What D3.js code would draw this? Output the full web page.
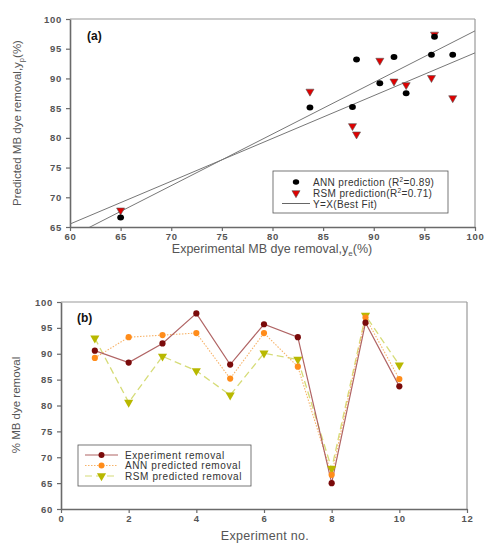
<!DOCTYPE html>
<html><head><meta charset="utf-8">
<script src="https://cdn.jsdelivr.net/npm/d3@7/dist/d3.min.js"></script>
<style>
body{margin:0;background:#fff;}
text{font-family:"Liberation Sans",Arial,sans-serif;}
</style></head>
<body><svg id="c" width="484" height="544"></svg>
<script>
const experimentNo = [1,2,3,4,5,6,7,8,9,10];
const experimental = [90.6,88.3,92.0,97.8,87.9,95.7,93.2,65.0,96.0,83.7];
const annPredicted = [89.2,93.2,93.6,94.0,85.2,94.0,87.5,66.6,97.0,85.1];
const rsmPredicted = [93.0,80.6,89.5,86.7,82.0,90.1,88.9,67.8,97.4,87.8];
// fit lines in panel (a): [slope, intercept]
const fitLines = [[0.72,22.3],[0.868,11.2]];
const ticksA_x = [60,65,70,75,80,85,90,95,100];
const ticksA_y = [65,70,75,80,85,90,95,100];
const ticksB_x = [0,2,4,6,8,10,12];
const ticksB_y = [60,65,70,75,80,85,90,95,100];

const svg = d3.select("#c");
const axisCol="#6a6a6a", textCol="#555";

function frame(g,x,y,xt,yt){
  const [x0,x1]=x.range(), [y0,y1]=y.range();
  g.append("line").attr("x1",x0).attr("x2",x1).attr("y1",y1).attr("y2",y1).attr("stroke","#999").attr("stroke-width",1.2);
  g.append("line").attr("x1",x1).attr("x2",x1).attr("y1",y1).attr("y2",y0).attr("stroke","#999").attr("stroke-width",1.2);
  const ax=g.append("g").attr("transform",`translate(0,${y0})`).call(d3.axisBottom(x).tickValues(xt).tickSize(4).tickSizeOuter(0).tickPadding(2));
  const ay=g.append("g").attr("transform",`translate(${x0},0)`).call(d3.axisLeft(y).tickValues(yt).tickSize(4).tickSizeOuter(0).tickPadding(4));
  [ax,ay].forEach(a=>{
    a.select(".domain").attr("stroke",axisCol).attr("stroke-width",1.6);
    a.selectAll(".tick line").attr("stroke",axisCol).attr("stroke-width",1.2);
    a.selectAll(".tick text").attr("fill",textCol).attr("font-size",9.5).attr("font-weight","bold").attr("letter-spacing",0.7).attr("font-family","Liberation Sans, Arial, sans-serif");
  });
}

// ---------- Panel (a)
const xa=d3.scaleLinear().domain([60,100]).range([70,475]);
const ya=d3.scaleLinear().domain([65,100]).range([227,19]);
const ga=svg.append("g");
ga.append("defs").append("clipPath").attr("id","clipA").append("rect")
  .attr("x",70).attr("y",19).attr("width",405).attr("height",208);
frame(ga,xa,ya,ticksA_x,ticksA_y);
fitLines.forEach(([m,b])=>{
  ga.append("line").attr("clip-path","url(#clipA)")
    .attr("x1",xa(60)).attr("y1",ya(m*60+b)).attr("x2",xa(100)).attr("y2",ya(m*100+b))
    .attr("stroke","#777").attr("stroke-width",1);
});
const tri=d3.symbol().type(d3.symbolTriangle).size(28);
ga.selectAll(".rsm").data(experimental).join("path")
  .attr("d",tri).attr("transform",(d,i)=>`translate(${xa(d)},${ya(rsmPredicted[i])}) rotate(180)`)
  .attr("fill","#e00000").attr("stroke","#555").attr("stroke-width",0.6);
ga.selectAll(".ann").data(experimental).join("ellipse")
  .attr("cx",d=>xa(d)).attr("cy",(d,i)=>ya(annPredicted[i])).attr("rx",3.4).attr("ry",3)
  .attr("fill","#000");
ga.append("text").attr("x",87).attr("y",40).text("(a)")
  .attr("font-family","Liberation Serif, Times New Roman, serif").attr("font-weight","bold").attr("font-size",12).attr("fill","#111");
// legend a
const la=ga.append("g");
la.append("rect").attr("x",273).attr("y",171).attr("width",175).attr("height",42).attr("fill","#fff").attr("stroke","#555").attr("stroke-width",0.8);
la.append("ellipse").attr("cx",296).attr("cy",182).attr("rx",3.2).attr("ry",2.8).attr("fill","#000");
la.append("path").attr("d",tri).attr("transform","translate(296,193) rotate(180)").attr("fill","#e00000").attr("stroke","#555").attr("stroke-width",0.6);
la.append("line").attr("x1",282).attr("x2",310).attr("y1",203.5).attr("y2",203.5).attr("stroke","#666").attr("stroke-width",1);
const lta=la.append("text").attr("x",313).attr("y",185.5).attr("font-size",10).attr("letter-spacing",0.35).attr("fill","#333");
lta.append("tspan").text("ANN prediction (R");
lta.append("tspan").text("2").attr("font-size",6.5).attr("dy",-4);
lta.append("tspan").text("=0.89)").attr("dy",4);
const ltb=la.append("text").attr("x",313).attr("y",196.5).attr("font-size",10).attr("letter-spacing",0.35).attr("fill","#333");
ltb.append("tspan").text("RSM prediction(R");
ltb.append("tspan").text("2").attr("font-size",6.5).attr("dy",-4);
ltb.append("tspan").text("=0.71)").attr("dy",4);
la.append("text").attr("x",313).attr("y",207.5).attr("font-size",10).attr("letter-spacing",0.35).attr("fill","#333").text("Y=X(Best Fit)");
// axis titles a
const xta=ga.append("text").attr("x",272).attr("y",253).attr("text-anchor","middle").attr("font-size",12.5).attr("fill",textCol);
xta.append("tspan").text("Experimental MB dye removal,y");
xta.append("tspan").text("e").attr("font-size",8).attr("dy",2.5);
xta.append("tspan").text("(%)").attr("dy",-2.5);
const yta=ga.append("text").attr("transform","translate(21,123) rotate(-90)").attr("text-anchor","middle").attr("font-size",11.5).attr("fill",textCol);
yta.append("tspan").text("Predicted MB dye removal,y");
yta.append("tspan").text("p").attr("font-size",7.5).attr("dy",3);
yta.append("tspan").text("(%)").attr("dy",-3);

// ---------- Panel (b)
const xb=d3.scaleLinear().domain([0,12]).range([61,467]);
const yb=d3.scaleLinear().domain([60,100]).range([509,302]);
const gb=svg.append("g");
frame(gb,xb,yb,ticksB_x,ticksB_y);
const line=d3.line().x((d,i)=>xb(experimentNo[i])).y(d=>yb(d));
gb.append("path").datum(rsmPredicted).attr("d",line).attr("fill","none").attr("stroke","#d6dc78").attr("stroke-width",1.3).attr("stroke-dasharray","7,4");
gb.append("path").datum(annPredicted).attr("d",line).attr("fill","none").attr("stroke","#f7b36a").attr("stroke-width",1.1).attr("stroke-dasharray","1.5,1.5");
gb.append("path").datum(experimental).attr("d",line).attr("fill","none").attr("stroke","#b06464").attr("stroke-width",1.2);
const triB=d3.symbol().type(d3.symbolTriangle).size(36);
gb.selectAll(".rb").data(rsmPredicted).join("path").attr("d",triB)
  .attr("transform",(d,i)=>`translate(${xb(experimentNo[i])},${yb(d)}) rotate(180)`).attr("fill","#b8b800");
gb.selectAll(".ab").data(annPredicted).join("circle").attr("cx",(d,i)=>xb(experimentNo[i])).attr("cy",d=>yb(d)).attr("r",3.1).attr("fill","#ff8c1a");
gb.selectAll(".eb").data(experimental).join("circle").attr("cx",(d,i)=>xb(experimentNo[i])).attr("cy",d=>yb(d)).attr("r",3.1).attr("fill","#7a0a0a");
gb.append("text").attr("x",77).attr("y",322).text("(b)")
  .attr("font-family","Liberation Serif, Times New Roman, serif").attr("font-weight","bold").attr("font-size",12).attr("fill","#111");
// legend b
const lb=gb.append("g");
lb.append("rect").attr("x",78).attr("y",445).attr("width",173).attr("height",41).attr("fill","#fff").attr("stroke","#555").attr("stroke-width",0.8);
const items=[["Experiment removal","#b06464",null,"#7a0a0a","c"],["ANN predicted removal","#f7b36a","1.5,1.5","#ff8c1a","c"],["RSM predicted removal","#d6dc78","7,4","#b8b800","t"]];
items.forEach((it,k)=>{
  const yy=455+k*10.5;
  const l=lb.append("line").attr("x1",85).attr("x2",118).attr("y1",yy).attr("y2",yy).attr("stroke",it[1]).attr("stroke-width",1.2);
  if(it[2]) l.attr("stroke-dasharray",it[2]);
  if(it[4]==="c") lb.append("circle").attr("cx",101.5).attr("cy",yy).attr("r",3).attr("fill",it[3]);
  else lb.append("path").attr("d",triB).attr("transform",`translate(101.5,${yy}) rotate(180)`).attr("fill",it[3]);
  lb.append("text").attr("x",125).attr("y",yy+3.5).attr("font-size",10).attr("fill","#333").attr("letter-spacing",0.6).text(it[0]);
});
gb.append("text").attr("x",265).attr("y",539.5).attr("text-anchor","middle").attr("font-size",12.5).attr("letter-spacing",0.3).attr("fill",textCol).text("Experiment no.");
gb.append("text").attr("transform","translate(20,405) rotate(-90)").attr("text-anchor","middle").attr("font-size",11.5).attr("fill",textCol).text("% MB dye removal");
</script></body></html>
